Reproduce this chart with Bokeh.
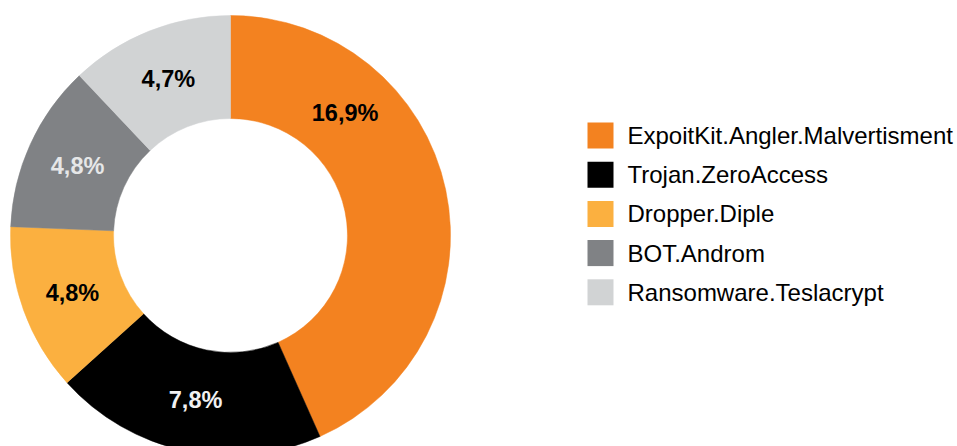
import math
from bokeh.plotting import figure
from bokeh.models import Range1d, ColumnDataSource
from bokeh.core.properties import value
from bokeh.embed import file_html
from bokeh.resources import INLINE

# ---- data ----
names = ["ExpoitKit.Angler.Malvertisment", "Trojan.ZeroAccess", "Dropper.Diple",
         "BOT.Androm", "Ransomware.Teslacrypt"]
values = [16.9, 7.8, 4.8, 4.8, 4.7]
pct_labels = ["16,9%", "7,8%", "4,8%", "4,8%", "4,7%"]
colors = ["#F38220", "#000000", "#FBB040", "#808285", "#D1D3D4"]
label_colors = ["#000000", "#F1F1F2", "#000000", "#E6E7E8", "#000000"]

# ---- layout ----
W, H = 957, 446
p = figure(width=W, height=H, output_backend="svg", toolbar_location=None,
           x_range=Range1d(0, W), y_range=Range1d(0, H), min_border=0)
p.axis.visible = False
p.grid.visible = False
p.outline_line_color = None
p.background_fill_color = "white"
p.border_fill_color = "white"

cx, cy = 230, H - 235
r_out, r_in = 220, 117
total = sum(values)

starts, ends, mids = [], [], []
cum = 0.0
for v in values:
    s = math.pi / 2 - cum / total * 2 * math.pi
    cum += v
    e = math.pi / 2 - cum / total * 2 * math.pi
    starts.append(s)
    ends.append(e)
    mids.append((s + e) / 2)

src = ColumnDataSource(dict(start=starts, end=ends, color=colors))
p.annular_wedge(x=cx, y=cy, inner_radius=r_in, outer_radius=r_out,
                start_angle="start", end_angle="end", direction="clock",
                fill_color="color", line_color="color", line_width=0.5, source=src)

# label angles: slice mid-angle, the big slice's label sits higher (as in original)
label_ang = list(mids)
label_ang[0] = math.radians(47)
r_lab = 168
lx = [cx + r_lab * math.cos(a) for a in label_ang]
ly = [cy + r_lab * math.sin(a) for a in label_ang]
p.text(x=lx, y=ly, text=pct_labels, text_color=label_colors,
       text_font=value("Liberation Sans"), text_font_style="bold",
       text_font_size="23.5px", text_align="center", text_baseline="middle")

# legend (drawn manually)
sq = 26
pitch = 39.2
lg_x = 587 + sq / 2
lg_top = H - 135
ys = [lg_top - i * pitch for i in range(len(names))]
p.rect(x=[lg_x] * len(names), y=ys, width=sq, height=sq,
       fill_color=colors, line_color=None)
p.text(x=[lg_x + sq / 2 + 14] * len(names), y=ys, text=names, text_color="#000000",
       text_font=value("Liberation Sans"), text_font_size="24px",
       text_align="left", text_baseline="middle")

open("out.html", "w").write(file_html(p, INLINE))
